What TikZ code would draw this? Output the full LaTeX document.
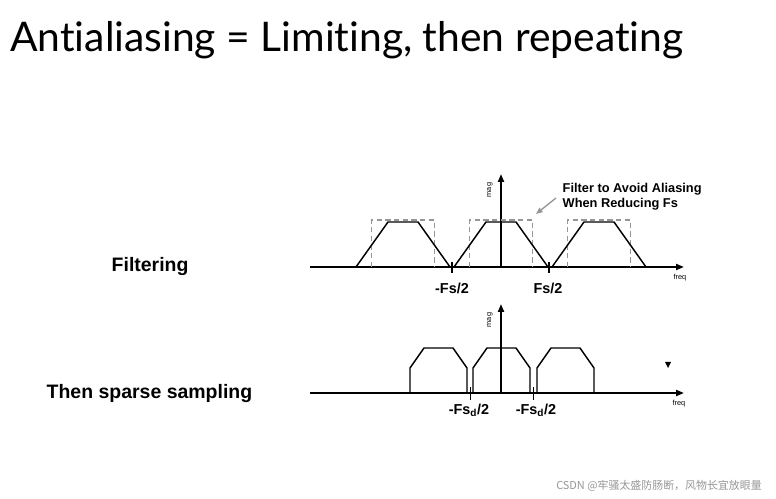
\documentclass[tikz,border=0pt]{standalone}
\usepackage{fontspec}
\setmainfont{Liberation Sans}
\newfontfamily\titlefont[Ligatures={NoCommon}]{Lato}
\newfontfamily\cjkfont{Noto Sans CJK SC}
\usetikzlibrary{arrows.meta}
\definecolor{dgray}{RGB}{150,150,150}
\tikzset{
  axis/.style={line width=1.6pt,-{Triangle[length=6pt,width=4.5pt]}},
  spec/.style={line width=1.1pt,line join=miter},
  filt/.style={line width=1.1pt,dgray,dash pattern=on 4pt off 2.5pt},
  tick/.style={line width=1.2pt},
  side/.style={font=\fontsize{14.6}{16}\selectfont\bfseries,anchor=west},
  flab/.style={font=\fontsize{10.8}{12}\selectfont\bfseries},
  tiny/.style={font=\fontsize{5.5}{6}\selectfont},
  note/.style={font=\fontsize{9.6}{11.5}\selectfont\bfseries,align=left,anchor=west}
}
\begin{document}
\begin{tikzpicture}[x=0.75pt,y=-0.75pt]
\useasboundingbox (0,0) rectangle (776,499);
% title
\node[anchor=base west,inner sep=0pt,font=\titlefont\fontsize{30.6}{34}\selectfont] (title) at (10,52) {Antialiasing = Limiting, then repeating};
% left labels
\node[side] (filt) at (107,267) {Filtering};
\node[side] (samp) at (42,394) {Then sparse sampling};
% ---------- top plot
\coordinate (t0) at (310,267);
\coordinate (t1) at (684,267);
\coordinate (v0) at (501,267);
\coordinate (v1) at (501,174);
\draw[axis] (t0) -- (t1);
\draw[axis] (v0) -- (v1);
\node[tiny,rotate=90] (tmag) at (490,190) {mag};
\node[tiny] (tfreq) at (680,278) {freq};
\foreach \c in {403,501,599}{
  \draw[filt] (\c-31.5,267) -- (\c-31.5,220) -- (\c+31.5,220) -- (\c+31.5,267);
  \draw[spec] (\c-47,267) -- (\c-15,222) -- (\c+15,222) -- (\c+47,267);
}
\draw[tick] (452,262) -- (452,273);
\draw[tick] (549,262) -- (549,273);
\node[flab] (fm) at (452,288) {-Fs/2};
\node[flab] (fp) at (548,288) {Fs/2};
\node[note] (ann) at (558,197) {Filter to Avoid Aliasing\\When Reducing Fs};
\coordinate (a0) at (556,198);
\coordinate (a1) at (536,214);
\draw[dgray,line width=1pt,-{Triangle[length=5pt,width=4pt]}] (a0) -- (a1);
% ---------- bottom plot
\coordinate (b0) at (310,393);
\coordinate (b1) at (684,393);
\coordinate (w0) at (501,393);
\coordinate (w1) at (501,304);
\draw[axis] (b0) -- (b1);
\draw[axis] (w0) -- (w1);
\node[tiny,rotate=90] (bmag) at (490,320) {mag};
\node[tiny] (bfreq) at (679,404) {freq};
\foreach \c in {438.5,501.5,565.5}{
  \draw[spec] (\c-28.5,393) -- (\c-28.5,368) -- (\c-14.5,348) -- (\c+14.5,348) -- (\c+28.5,368) -- (\c+28.5,393);
}
\draw[tick] (470.5,387) -- (470.5,400);
\draw[tick] (533.5,387) -- (533.5,400);
\node[flab] (dm) at (469,410) {-Fs\textsubscript{d}/2};
\node[flab] (dp) at (536,410) {-Fs\textsubscript{d}/2};
\fill (665,362) -- (671,362) -- (668,368) -- cycle;
% watermark
\node[anchor=base west,inner sep=0pt,text=dgray,font=\cjkfont\fontsize{8.2}{9}\selectfont] (wm) at (556,489) {CSDN @牢骚太盛防肠断，风物长宜放眼量};
\end{tikzpicture}
\end{document}
